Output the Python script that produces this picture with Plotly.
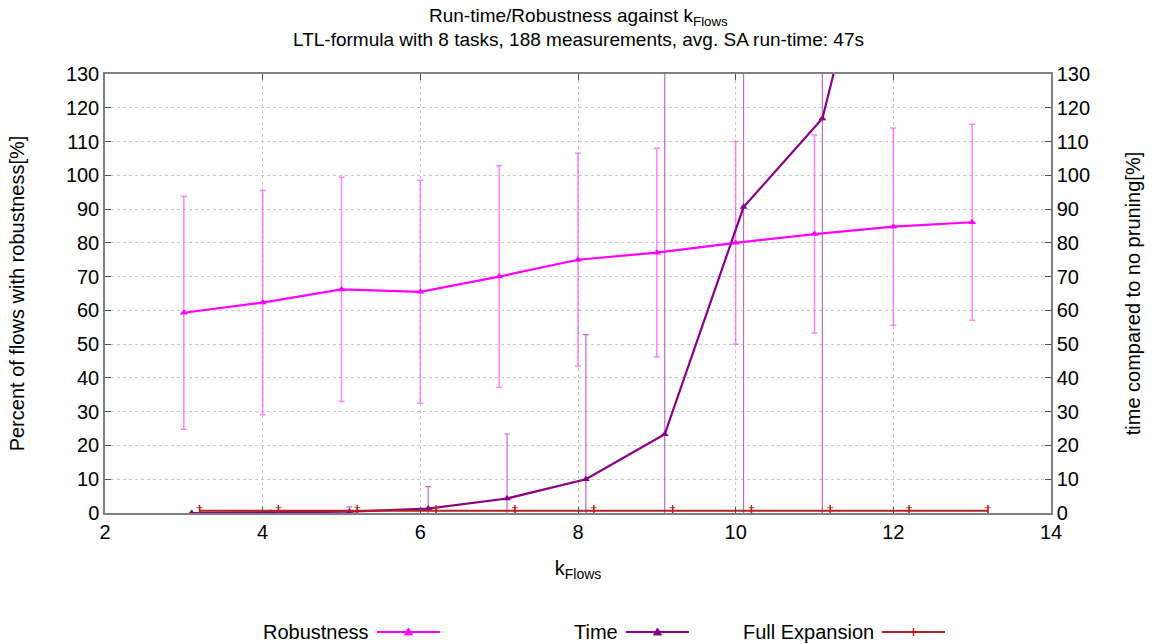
import plotly.graph_objects as go

# ---- data ----
k_flows = [3, 4, 5, 6, 7, 8, 9, 10, 11, 12, 13]
robust_mean = [59.3, 62.3, 66.2, 65.5, 70.0, 75.0, 77.1, 80.0, 82.6, 84.8, 86.1]
robust_err = [34.5, 33.2, 33.2, 33.0, 32.8, 31.5, 30.9, 30.0, 29.3, 29.2, 29.0]

time_offset = 0.1
time_mean = [0.0, 0.1, 0.4, 1.3, 4.3, 10.0, 23.3, 90.6, 116.8, 210.0, 400.0]
time_err = [0.0, 0.3, 1.4, 6.5, 19.1, 42.8, 110.0, 100.0, 130.0, 60.0, 120.0]

full_offset = 0.2
full_mean = [0.7, 0.7, 0.7, 0.7, 0.7, 0.7, 0.7, 0.7, 0.7, 0.7, 0.7]
full_err = [0.9, 0.9, 0.9, 0.9, 0.9, 0.9, 0.9, 0.9, 0.9, 0.9, 0.9]

x_ticks = [2, 4, 6, 8, 10, 12, 14]
y_ticks = list(range(0, 131, 10))
series_names = ["Robustness", "Time", "Full Expansion"]

time_x = [k + time_offset for k in k_flows]
full_x = [k + full_offset for k in k_flows]

FONT = "Liberation Sans, Arial, sans-serif"
C_ROB = "#ff00ff"
C_TIME = "#880088"
C_FULL = "#b22222"

fig = go.Figure()

fig.add_trace(go.Scatter(
    x=k_flows, y=robust_mean, mode="lines+markers", name=series_names[0],
    line=dict(color=C_ROB, width=2.2),
    marker=dict(symbol="triangle-up", size=7, color=C_ROB),
    error_y=dict(type="data", array=robust_err, visible=True,
                 color="rgba(255,80,255,0.7)", thickness=1.5, width=3),
    showlegend=False,
))
fig.add_trace(go.Scatter(
    x=time_x, y=time_mean, mode="lines+markers", name=series_names[1],
    line=dict(color=C_TIME, width=2.2),
    marker=dict(symbol="triangle-up", size=7, color=C_TIME),
    error_y=dict(type="data", array=time_err, visible=True,
                 color="rgba(175,70,185,0.8)", thickness=1.2, width=3),
    yaxis="y2", showlegend=False,
))
fig.add_trace(go.Scatter(
    x=full_x, y=full_mean, mode="lines+markers", name=series_names[2],
    line=dict(color=C_FULL, width=2),
    marker=dict(symbol="line-ns-open", size=8, color=C_FULL,
                line=dict(color=C_FULL, width=1.5)),
    error_y=dict(type="data", array=full_err, visible=True,
                 color="rgba(200,60,60,0.8)", thickness=1.2, width=3),
    yaxis="y2", showlegend=False,
))

axis_common = dict(
    showline=True, linecolor="#808080", linewidth=1.5,
    ticks="inside", ticklen=6, tickcolor="#505050",
    showgrid=True, gridcolor="#c8c8c8", griddash="dot", gridwidth=1,
    zeroline=False, tickfont=dict(size=20, color="#000", family=FONT),
)

fig.update_layout(
    width=1157, height=644,
    margin=dict(l=105, r=106, t=74, b=131),
    paper_bgcolor="white", plot_bgcolor="white",
    font=dict(family=FONT, size=20, color="#000"),
    xaxis=dict(range=[2, 14], tickvals=x_ticks, mirror="ticks",
               title=dict(text="k<sub>Flows</sub>", standoff=19,
                          font=dict(size=20, family=FONT)),
               **axis_common),
    yaxis=dict(range=[0, 130], tickvals=y_ticks, mirror=True,
               title=dict(text="Percent of flows with robustness[%]", standoff=36,
                          font=dict(size=20, family=FONT)),
               **axis_common),
    yaxis2=dict(range=[0, 130], tickvals=y_ticks, overlaying="y", side="right",
                title=dict(text="time compared to no pruning[%]", standoff=37,
                           font=dict(size=20, family=FONT)),
                **{**axis_common, "showgrid": False}),
    showlegend=False,
)

# title (two lines)
fig.add_annotation(text="Run-time/Robustness against k<sub>Flows</sub>",
                   xref="paper", yref="paper", x=0.5, y=1.1298,
                   xanchor="center", yanchor="middle", showarrow=False,
                   font=dict(size=19, family=FONT, color="#000"))
fig.add_annotation(text="LTL-formula with 8 tasks, 188 measurements, avg. SA run-time: 47s",
                   xref="paper", yref="paper", x=0.5, y=1.0797,
                   xanchor="center", yanchor="middle", showarrow=False,
                   font=dict(size=19, family=FONT, color="#000"))

# custom legend: text then sample (gnuplot style)
leg_y = -0.2711
leg_text_right = [0.2812, 0.5444, 0.815]
leg_colors = [C_ROB, C_TIME, C_FULL]
for name, xr, col in zip(series_names, leg_text_right, leg_colors):
    fig.add_annotation(text=name, xref="paper", yref="paper", x=xr, y=leg_y,
                       xanchor="right", yanchor="middle", showarrow=False,
                       font=dict(size=20, family=FONT, color="#000"))
    x0 = xr + 6 / 946
    x1 = x0 + 63 / 946
    xm = (x0 + x1) / 2
    fig.add_shape(type="line", xref="paper", yref="paper", x0=x0, x1=x1,
                  y0=leg_y, y1=leg_y, line=dict(color=col, width=2))
    if name == "Full Expansion":
        fig.add_shape(type="path", xref="paper", yref="paper",
                      xsizemode="pixel", ysizemode="pixel", xanchor=xm, yanchor=leg_y,
                      path="M 0,-4 L 0,4", line=dict(color=col, width=1.5))
    else:
        fig.add_shape(type="path", xref="paper", yref="paper",
                      xsizemode="pixel", ysizemode="pixel", xanchor=xm, yanchor=leg_y,
                      path="M -4,-3 L 4,-3 L 0,4 Z", fillcolor=col,
                      line=dict(color=col, width=1))

fig.write_html("out.html")
